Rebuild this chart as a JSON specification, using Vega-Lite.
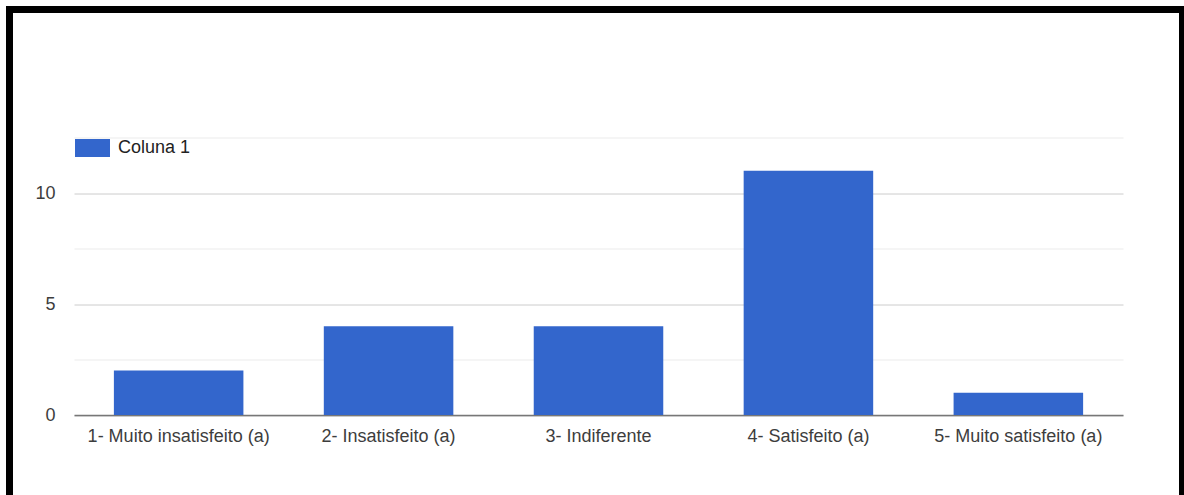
{
  "$schema": "https://vega.github.io/schema/vega-lite/v6.json",
  "width": 1173,
  "height": 485.5,
  "autosize": {"type": "none"},
  "padding": {"left": 9.5, "top": 9.5, "right": 1.5, "bottom": 0},
  "background": "white",
  "config": {
    "font": "Liberation Sans",
    "view": {"stroke": "black", "strokeWidth": 7, "strokeDash": [1658.5, 1173, 485.5], "strokeCap": "square", "fill": "white"}
  },
  "data": {
    "values": [
      {"categoria": "1- Muito insatisfeito (a)", "serie": "Coluna 1", "valor": 2},
      {"categoria": "2- Insatisfeito (a)", "serie": "Coluna 1", "valor": 4},
      {"categoria": "3- Indiferente", "serie": "Coluna 1", "valor": 4},
      {"categoria": "4- Satisfeito (a)", "serie": "Coluna 1", "valor": 11},
      {"categoria": "5- Muito satisfeito (a)", "serie": "Coluna 1", "valor": 1}
    ]
  },
  "mark": {"type": "bar"},
  "encoding": {
    "x": {
      "field": "categoria",
      "type": "nominal",
      "sort": null,
      "scale": {"range": [64.5, 1113.5], "paddingInner": 0.383, "paddingOuter": 0.19},
      "axis": {
        "title": null,
        "labelAngle": 0,
        "labelLimit": 0,
        "ticks": false,
        "grid": false,
        "domain": true,
        "domainColor": "#777777",
        "domainWidth": 1.5,
        "offset": -80,
        "labelPadding": 12,
        "labelFontSize": 18,
        "labelColor": "#3d3d3d",
        "labelFont": "Liberation Sans"
      }
    },
    "y": {
      "field": "valor",
      "type": "quantitative",
      "scale": {"domain": [0, 12.5], "range": [405.5, 128], "nice": false},
      "axis": {
        "title": null,
        "values": [0, 2.5, 5, 7.5, 10, 12.5],
        "labelExpr": "datum.value % 5 === 0 ? datum.label : ''",
        "ticks": false,
        "domain": false,
        "grid": true,
        "gridColor": {"condition": {"test": "datum.value % 5 === 0", "value": "#cccccc"}, "value": "#ebebeb"},
        "gridWidth": 1,
        "offset": -64.5,
        "labelPadding": 19,
        "labelFontSize": 18,
        "labelColor": "#3d3d3d",
        "labelFont": "Liberation Sans"
      }
    },
    "color": {
      "field": "serie",
      "type": "nominal",
      "scale": {"range": ["#3366cc"]},
      "legend": {
        "title": null,
        "orient": "none",
        "legendX": 65.5,
        "legendY": 121,
        "symbolType": "M-1,-0.514H1V0.514H-1Z",
        "symbolSize": 1225,
        "symbolStrokeWidth": 0,
        "symbolOpacity": 1,
        "labelOffset": 8,
        "labelFontSize": 18,
        "labelColor": "#222222",
        "labelFont": "Liberation Sans"
      }
    }
  }
}
